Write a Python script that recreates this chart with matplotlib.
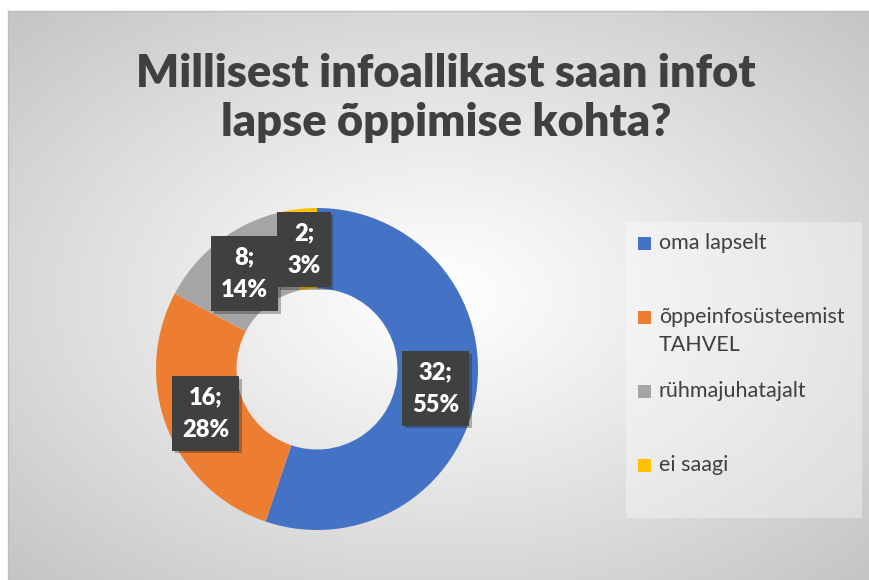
import numpy as np
import matplotlib
matplotlib.use("Agg")
import matplotlib.pyplot as plt
import matplotlib.patheffects as pe
from matplotlib.patches import Rectangle

# data
labels = ["oma lapselt", "õppeinfosüsteemist\nTAHVEL", "rühmajuhatajalt", "ei saagi"]
counts = [32, 16, 8, 2]
colors = ["#4472C4", "#ED7D31", "#A5A5A5", "#FFC000"]
title = "Millisest infoallikast saan infot\nlapse õppimise kohta?"

W, H = 870, 580
fig = plt.figure(figsize=(W / 100, H / 100), dpi=100)
fig.patch.set_facecolor("white")

# chart area background with radial gradient
bg = fig.add_axes([8 / W, 0, (W - 8) / W, (H - 11) / H])
ny, nx = 300, 450
yy, xx = np.mgrid[-1:1:ny * 1j, -1:1:nx * 1j]
d = np.clip(np.sqrt(xx**2 + yy**2) / np.sqrt(2), 0, 1)
val = 1 - (1 - 0.77) * d**1.1
bg.imshow(np.dstack([val, val, val]), extent=[0, 1, 0, 1], aspect="auto")
bg.set_axis_off()
fig.add_artist(plt.Line2D([8 / W, 1], [1 - 11 / H, 1 - 11 / H], color="#bdbdbd", lw=1))
fig.add_artist(plt.Line2D([8 / W, 8 / W], [0, 1 - 11 / H], color="#bdbdbd", lw=1))

fig.text(446 / W, 1 - 98 / H, title, ha="center", va="center", fontsize=32.5,
         fontweight="heavy", family="Lato", color="#404040", linespacing=1.25)

# donut
cx, cy, r = 317, 369, 161
ax = fig.add_axes([(cx - r) / W, (H - cy - r) / H, 2 * r / W, 2 * r / H])
ax.pie(counts, colors=colors, startangle=90, counterclock=False, radius=1,
       wedgeprops=dict(width=0.5, edgecolor="none"))
ax.set_xlim(-1, 1)
ax.set_ylim(-1, 1)
ax.set_aspect("equal")
ax.set_axis_off()

total = sum(counts)
cum = np.cumsum([0] + counts)
for i, c in enumerate(counts):
    mid = (cum[i] + c / 2) / total * 2 * np.pi
    x, y = 0.745 * np.sin(mid), 0.745 * np.cos(mid)
    t = ax.text(x, y, f"{c};\n{round(c / total * 100)}%", ha="center", va="center",
                fontsize=17, fontweight="heavy", family="Lato", color="white",
                linespacing=1.6,
                bbox=dict(boxstyle="square,pad=0.42", facecolor="#404040", edgecolor="none"))
    t.get_bbox_patch().set_path_effects([pe.SimplePatchShadow(offset=(2, -2), alpha=0.3), pe.Normal()])

# legend
fig.add_artist(Rectangle((626 / W, 1 - 518 / H), (862 - 626) / W, (518 - 222) / H,
                         transform=fig.transFigure, facecolor="white", alpha=0.35, edgecolor="none"))
for i, lab in enumerate(labels):
    ly = 243 + 74 * i
    fig.add_artist(Rectangle((638 / W, 1 - (ly + 7) / H), 13 / W, 13 / H,
                             transform=fig.transFigure, facecolor=colors[i], edgecolor="none"))
    fig.text(659 / W, 1 - (ly - 10) / H, lab, ha="left", va="top", fontsize=15.5,
             family="Lato", color="#404040", linespacing=1.5)

fig.savefig("out.png", dpi=100)
